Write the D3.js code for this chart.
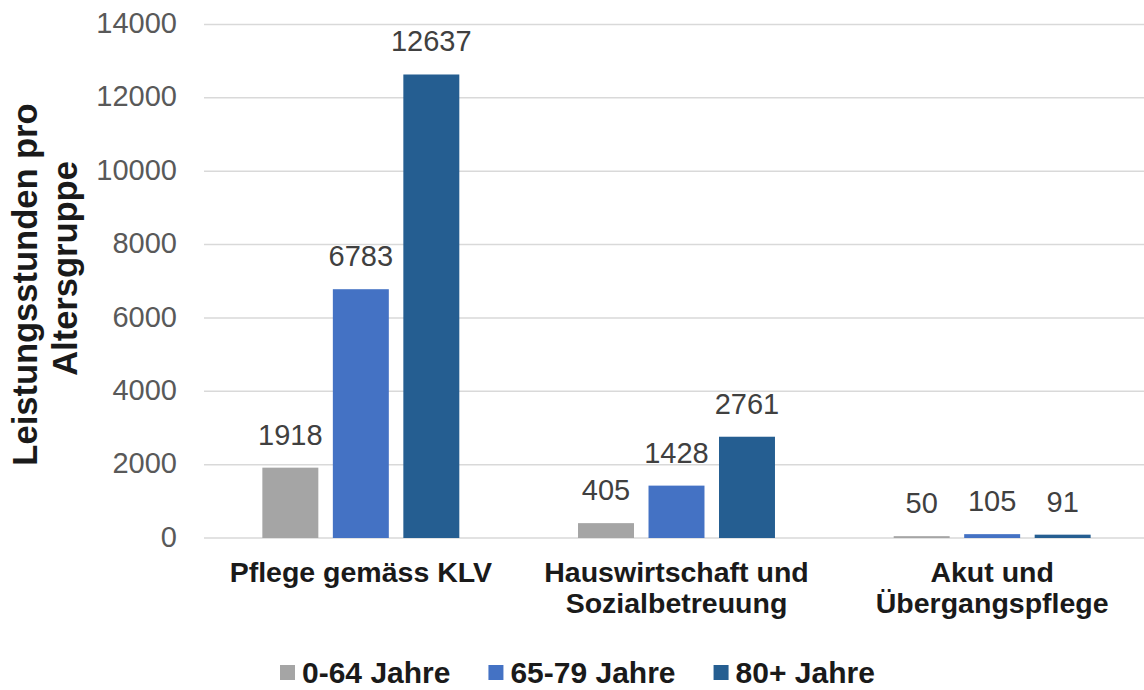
<!DOCTYPE html>
<html>
<head>
<meta charset="utf-8">
<script src="https://cdn.jsdelivr.net/npm/d3@7"></script>
<style>
  html, body { margin: 0; padding: 0; background: #ffffff; }
  svg { display: block; font-family: "Liberation Sans", Arial, sans-serif; }
</style>
</head>
<body>
<svg id="chart" width="1144" height="690"></svg>
<script>
// ---- data ----
const categories = [["Pflege gemäss KLV"], ["Hauswirtschaft und", "Sozialbetreuung"], ["Akut und", "Übergangspflege"]];
const seriesNames = ["0-64 Jahre", "65-79 Jahre", "80+ Jahre"];
const values0to64 = [1918, 405, 50];
const values65to79 = [6783, 1428, 105];
const values80plus = [12637, 2761, 91];
const yTicks = [0, 2000, 4000, 6000, 8000, 10000, 12000, 14000];
const yTitle = ["Leistungsstunden pro", "Altersgruppe"];
const colors = ["#A5A5A5", "#4472C4", "#255E91"];

const seriesValues = [values0to64, values65to79, values80plus];
const catKeys = categories.map(c => c.join(" "));

const svg = d3.select("#chart");
const W = 1144, H = 690;

const x0 = d3.scaleBand().domain(catKeys).range([203, 1150]).paddingInner(0).paddingOuter(0);
const x1 = d3.scaleBand().domain(seriesNames).range([0, x0.bandwidth()]).paddingInner(0.206).paddingOuter(0.842);
const y = d3.scaleLinear().domain([0, 14000]).range([538, 24.5]);

// gridlines
svg.append("g").selectAll("line").data(yTicks).join("line")
  .attr("x1", 204).attr("x2", W)
  .attr("y1", d => y(d)).attr("y2", d => y(d))
  .attr("stroke", "#d9d9d9").attr("stroke-width", 1.5);

// y axis labels
const yAxis = svg.append("g").attr("transform", "translate(177,0)")
  .call(d3.axisLeft(y).tickValues(yTicks).tickSize(0).tickPadding(0).tickFormat(d3.format("d")));
yAxis.select(".domain").remove();
yAxis.selectAll("text")
  .attr("font-family", "'Liberation Sans', Arial, sans-serif")
  .attr("font-size", 29).attr("fill", "#595959").attr("dy", "0.28em");

// bars
const groups = svg.append("g").selectAll("g").data(catKeys).join("g")
  .attr("transform", d => `translate(${x0(d)},0)`);

groups.each(function(cat, ci) {
  const g = d3.select(this);
  const rows = seriesNames.map((s, si) => ({ s, si, v: seriesValues[si][ci] }));
  g.selectAll("rect").data(rows).join("rect")
    .attr("x", d => x1(d.s))
    .attr("width", x1.bandwidth())
    .attr("y", d => y(d.v))
    .attr("height", d => y(0) - y(d.v))
    .attr("fill", d => colors[d.si]);
  g.selectAll("text").data(rows).join("text")
    .attr("x", d => x1(d.s) + x1.bandwidth() / 2)
    .attr("y", d => y(d.v) - 23)
    .attr("text-anchor", "middle")
    .attr("font-size", 29)
    .attr("fill", "#404040")
    .text(d => d.v);
});

// category labels
const catLabels = svg.append("g").selectAll("text").data(categories).join("text")
  .attr("text-anchor", "middle")
  .attr("font-size", 28.5).attr("font-weight", "bold").attr("fill", "#1a1a1a")
  .attr("transform", (d, i) => `translate(${x0(catKeys[i]) + x0.bandwidth() / 2},582)`);
catLabels.selectAll("tspan").data(d => d).join("tspan")
  .attr("x", 0).attr("y", (d, i) => i * 31)
  .text(d => d);

// y axis title
const titleCenters = [284.5, 268.5];
const titleBaselines = [37, 77];
svg.append("g").selectAll("text").data(yTitle).join("text")
  .attr("transform", (d, i) => `translate(${titleBaselines[i]},${titleCenters[i]}) rotate(-90)`)
  .attr("text-anchor", "middle")
  .attr("font-size", 34.5).attr("font-weight", "bold").attr("fill", "#1a1a1a")
  .text(d => d);

// legend
const legend = svg.append("g");
let lx = 280;
seriesNames.forEach((name, i) => {
  legend.append("rect").attr("x", lx).attr("y", 665).attr("width", 15).attr("height", 15).attr("fill", colors[i]);
  const t = legend.append("text").attr("x", lx + 22).attr("y", 683)
    .attr("font-size", 30).attr("font-weight", "bold").attr("fill", "#1a1a1a").text(name);
  lx = lx + 22 + t.node().getComputedTextLength() + 38;
});
</script>
</body>
</html>
